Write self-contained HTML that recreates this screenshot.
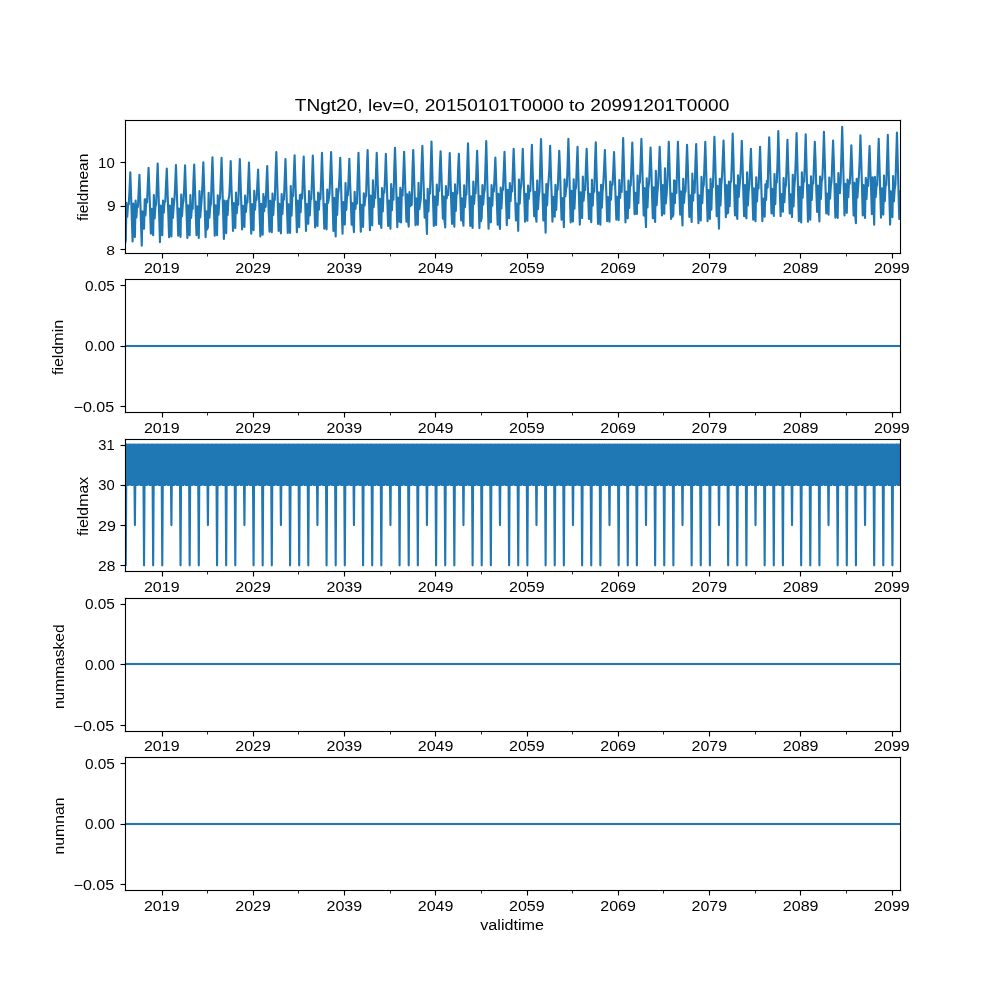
<!DOCTYPE html>
<html><head><meta charset="utf-8"><title>TNgt20</title>
<style>html,body{margin:0;padding:0;background:#fff;}svg{display:block;}</style></head>
<body><svg width="1000" height="1000" viewBox="0 0 1000 1000">
<defs><clipPath id="c0"><rect x="125" y="120.000" width="775" height="132.759"/></clipPath><clipPath id="c1"><rect x="125" y="279.310" width="775" height="132.759"/></clipPath><clipPath id="c2"><rect x="125" y="438.621" width="775" height="132.759"/></clipPath><clipPath id="c3"><rect x="125" y="597.931" width="775" height="132.759"/></clipPath><clipPath id="c4"><rect x="125" y="757.241" width="775" height="132.759"/></clipPath></defs>
<rect width="1000" height="1000" fill="#fff"/>
<rect x="126" y="444" width="774" height="41" fill="#1f77b4"/>
<rect x="126" y="344" width="774" height="1" fill="#f5f9fb"/><rect x="126" y="347" width="774" height="1" fill="#f5f9fb"/><rect x="125" y="345" width="775" height="2" fill="#1f77b4"/><rect x="126" y="662" width="774" height="1" fill="#f5f9fb"/><rect x="126" y="665" width="774" height="1" fill="#f5f9fb"/><rect x="125" y="663" width="775" height="2" fill="#1f77b4"/><rect x="126" y="822" width="774" height="1" fill="#f5f9fb"/><rect x="126" y="825" width="774" height="1" fill="#f5f9fb"/><rect x="125" y="823" width="775" height="2" fill="#1f77b4"/>
<g fill="none" stroke="#1f77b4" stroke-width="2.12" stroke-linejoin="round" stroke-linecap="square">
<path clip-path="url(#c0)" d="M125.00 243.70L125.77 240.50L126.47 202.86L127.25 216.64L128.00 205.06L128.77 204.34L129.52 190.00L130.30 172.40L132.60 241.40L133.35 203.68L134.12 229.94L134.90 237.02L135.62 200.66L136.39 217.47L137.14 204.36L137.92 207.03L139.44 174.80L141.74 245.60L142.49 211.26L143.27 221.90L144.04 228.76L144.74 199.27L145.52 215.42L146.26 198.98L147.04 202.52L148.56 167.80L150.09 209.83L150.86 233.70L151.61 208.80L152.39 227.29L153.16 235.23L153.86 195.12L154.64 218.47L155.39 207.00L156.16 203.72L157.68 163.60L159.98 242.10L160.73 205.65L161.51 225.25L162.28 235.16L162.98 200.61L163.76 212.72L164.51 202.11L165.28 201.54L166.03 183.88L166.80 168.50L169.10 237.20L169.85 205.47L170.63 228.37L171.40 236.48L172.13 198.62L172.90 217.88L173.65 206.96L174.43 199.48L175.18 185.31L175.95 165.00L178.25 235.80L179.00 208.61L180.55 236.85L181.25 194.64L182.02 216.17L182.77 204.55L183.55 200.53L184.30 185.24L185.07 165.30L187.37 237.90L188.12 205.36L188.89 226.89L189.67 235.29L190.37 195.03L191.14 218.00L191.89 207.18L192.67 208.94L193.42 181.48L194.19 164.60L196.49 235.10L197.24 206.38L198.01 219.64L198.79 237.96L199.49 190.95L200.26 217.47L201.79 197.24L202.54 181.94L203.31 162.20L204.09 185.01L204.84 212.81L205.61 237.20L206.36 211.36L207.14 229.54L207.91 227.21L208.63 192.77L209.41 217.62L210.16 207.49L210.93 203.60L211.68 178.67L212.46 157.40L214.76 235.80L215.51 205.23L217.06 235.31L217.76 195.30L218.53 214.62L219.28 201.03L220.05 197.43L221.58 157.70L223.88 239.00L224.63 200.66L225.40 226.73L226.18 233.23L226.88 200.99L227.65 214.83L228.40 199.80L229.17 196.45L229.92 183.24L230.70 161.10L231.47 188.02L232.22 206.62L233.00 230.90L233.75 202.96L234.52 223.96L235.30 228.01L236.00 192.44L236.77 213.10L237.52 201.64L238.30 204.73L239.04 180.07L239.82 159.10L242.12 229.50L242.87 205.91L243.64 214.28L244.42 226.96L245.14 195.67L245.92 211.95L246.67 202.59L247.44 202.46L248.97 162.50L251.26 233.70L252.01 204.03L252.79 218.96L253.56 230.12L254.26 190.81L255.04 209.76L255.79 198.30L256.56 199.88L258.09 169.50L260.38 236.50L261.13 203.80L261.91 221.89L262.68 234.81L263.38 194.09L264.16 211.12L264.91 197.29L265.68 206.82L266.43 184.08L267.21 166.00L268.73 213.25L269.51 231.60L270.25 200.84L271.03 222.19L271.80 232.27L272.50 193.61L273.28 214.96L274.03 200.14L274.80 200.05L275.55 173.38L276.33 152.00L278.63 230.90L279.38 203.77L280.92 233.33L281.65 194.12L282.42 213.84L283.17 200.17L283.95 199.39L285.47 159.10L287.77 233.00L288.52 204.34L289.30 220.36L290.07 232.85L290.77 186.13L291.54 215.59L292.29 195.99L293.07 196.09L294.59 155.20L295.37 179.76L296.89 232.30L297.64 200.59L298.42 216.25L299.19 227.21L299.89 195.09L300.67 212.31L301.41 194.17L302.19 198.35L302.94 175.00L303.71 156.60L304.49 183.95L305.24 203.97L306.01 230.90L306.76 203.98L307.54 221.73L308.31 223.84L309.01 191.09L309.79 215.41L310.54 199.63L311.31 198.89L312.83 155.60L315.13 227.40L315.88 201.48L316.66 221.80L317.43 225.91L318.16 192.47L318.93 209.74L319.68 193.69L320.46 198.91L321.21 177.85L321.98 152.70L324.28 228.80L325.03 204.09L326.58 229.32L327.28 189.56L328.05 202.91L329.58 193.53L331.10 152.10L331.87 175.74L333.40 230.90L334.15 197.85L334.92 222.00L335.70 236.49L336.40 188.76L337.17 214.92L337.92 195.94L338.70 189.97L339.45 177.54L340.22 157.70L342.52 233.70L343.27 202.01L344.04 220.84L344.82 224.44L345.52 183.10L346.29 209.88L347.04 195.78L347.82 195.27L348.57 179.22L349.34 158.70L350.12 183.23L350.87 202.18L351.64 224.60L352.39 203.13L353.16 221.94L353.94 232.13L354.66 191.92L355.44 208.98L356.19 198.90L356.96 203.59L357.71 175.76L358.49 152.70L359.26 177.73L360.01 206.55L360.79 231.60L361.54 204.87L362.31 219.60L363.08 226.90L363.78 193.38L364.56 205.53L365.31 197.71L366.08 195.81L366.83 170.99L367.61 150.00L369.13 204.30L369.91 230.20L370.66 195.66L371.43 220.21L372.21 225.33L372.91 180.36L373.68 207.30L374.43 196.50L375.20 197.87L376.73 152.80L379.03 223.90L379.78 198.84L380.55 222.09L381.33 227.95L382.03 188.08L382.80 211.55L383.55 191.30L384.32 192.58L385.07 177.01L385.85 153.80L388.15 226.00L388.90 200.56L389.67 215.72L390.45 228.61L391.17 184.18L391.95 210.29L392.70 189.03L393.47 199.80L394.22 170.44L394.99 147.70L395.77 171.30L397.29 227.10L398.04 197.61L398.82 217.82L399.59 221.59L400.29 187.77L401.07 222.46L401.82 189.80L402.59 195.81L404.11 151.70L406.41 221.80L407.16 194.40L407.94 218.72L408.71 226.60L409.41 192.05L410.19 206.10L410.94 194.88L411.71 205.09L412.46 170.85L413.24 150.00L414.01 173.35L415.53 225.30L416.28 198.21L417.06 219.92L417.83 224.76L418.53 182.78L419.31 209.24L420.83 198.67L421.58 165.24L422.36 145.80L424.66 217.60L425.40 200.40L426.18 215.87L426.95 233.89L427.68 188.77L428.45 211.52L429.20 194.31L429.98 193.46L431.50 141.60L433.03 199.04L433.80 226.00L434.55 196.46L435.32 221.07L436.10 225.03L436.80 184.66L437.57 204.95L438.32 191.17L439.10 190.91L439.85 167.69L440.62 151.40L442.15 197.44L442.92 218.70L443.67 196.67L444.45 219.97L445.22 227.37L445.92 186.03L446.69 198.33L447.44 192.12L448.22 195.01L449.74 153.10L451.27 202.92L452.04 223.90L452.79 192.81L453.57 207.49L454.34 226.68L455.04 184.41L455.81 211.03L456.56 192.23L457.34 193.53L458.09 170.73L458.86 153.80L461.16 220.40L461.91 198.22L462.69 217.29L463.46 225.61L464.19 185.19L464.96 207.08L465.71 195.28L466.48 194.31L467.23 166.93L468.01 143.30L468.78 169.60L469.53 201.64L470.31 226.00L471.06 196.23L471.83 219.08L472.61 228.02L473.31 181.54L474.08 204.04L474.83 192.57L475.61 193.09L477.13 150.70L477.90 174.10L479.43 228.10L480.18 195.98L480.95 221.17L481.73 217.61L482.43 185.05L483.20 204.57L483.95 193.47L484.73 189.96L486.25 141.00L487.77 200.42L488.55 228.80L489.30 197.71L490.07 216.26L490.85 222.32L491.55 185.15L492.32 205.58L493.07 188.46L493.85 191.40L495.37 157.60L497.67 224.60L498.42 193.77L499.19 220.17L499.97 229.01L500.69 187.64L501.47 208.44L502.22 190.85L502.99 189.67L504.52 151.70L506.82 225.30L507.56 189.85L508.34 214.23L509.11 218.20L509.81 183.13L510.59 201.27L511.34 186.17L512.11 191.45L513.64 148.90L514.41 169.67L515.16 198.08L515.94 220.40L516.69 203.52L517.46 208.47L518.23 230.86L518.93 179.58L519.71 203.74L520.46 190.05L521.23 185.19L521.98 172.03L522.76 148.90L525.06 221.80L525.81 193.93L527.36 220.73L528.05 185.53L528.83 198.81L529.58 188.79L530.35 191.03L531.88 144.70L532.65 170.60L534.18 216.20L534.93 191.89L535.70 215.41L536.48 221.77L537.20 180.47L537.98 209.30L538.72 196.70L539.50 191.23L541.02 139.10L543.32 220.40L544.07 194.40L544.85 209.38L545.62 232.63L546.32 184.17L547.10 205.45L547.85 189.20L548.62 180.27L549.37 169.09L550.14 145.80L550.92 173.67L551.67 195.47L552.44 221.80L553.19 196.85L553.97 216.01L554.74 216.70L555.44 184.74L556.22 209.89L556.97 190.57L557.74 189.45L559.26 150.70L560.04 170.83L560.79 197.09L561.56 219.70L562.31 198.03L563.09 208.22L563.86 227.18L564.56 179.27L565.34 196.42L566.09 189.04L566.86 185.70L567.61 164.62L568.39 138.70L569.16 164.35L569.91 196.65L570.68 222.50L571.43 190.88L572.21 214.16L572.98 221.54L573.71 179.38L574.48 208.80L575.23 190.03L576.01 187.68L576.76 165.85L577.53 146.80L579.06 200.18L579.83 224.60L580.58 192.23L581.35 213.50L582.13 218.02L582.83 176.46L583.60 200.79L584.35 190.32L585.13 190.10L585.88 167.65L586.65 148.90L588.95 219.00L589.70 193.92L590.47 216.35L591.25 222.21L591.95 179.70L592.72 205.58L593.47 188.59L594.25 191.79L595.00 163.36L595.77 142.30L596.55 171.68L598.07 223.90L598.82 192.38L599.60 206.79L600.37 224.65L601.07 184.82L601.84 207.67L602.59 191.71L603.37 182.47L604.12 167.90L604.89 150.00L606.42 196.03L607.19 221.10L607.94 197.13L608.72 212.61L609.49 221.67L610.22 181.55L610.99 199.62L611.74 184.75L612.51 184.85L613.26 171.04L614.04 152.10L616.34 219.70L617.09 196.73L617.86 206.43L618.64 220.28L619.34 180.01L620.11 197.86L620.86 185.98L621.63 191.96L623.16 138.00L625.46 222.50L626.21 191.52L626.98 215.64L627.76 218.34L628.46 180.53L629.23 207.99L629.98 186.39L630.76 185.45L632.28 142.60L634.58 214.10L635.33 192.72L636.10 213.40L636.88 213.86L637.58 175.67L638.35 203.28L639.10 184.01L639.88 182.41L641.40 138.70L642.17 162.46L643.70 215.50L644.45 187.94L645.22 211.95L646.00 227.30L646.72 178.22L647.50 207.37L648.25 188.50L649.02 183.05L649.77 167.00L650.55 147.50L651.32 169.18L652.07 196.26L652.84 218.30L653.59 187.23L654.37 215.94L655.14 221.99L655.84 170.76L656.62 205.26L657.37 193.19L658.14 184.12L658.89 168.68L659.67 146.80L660.44 166.38L661.19 193.26L661.97 215.50L662.71 185.05L663.49 212.48L664.26 213.73L664.96 168.20L665.74 203.55L666.49 195.82L667.26 184.67L668.01 165.86L668.79 141.90L671.09 219.00L671.84 193.65L672.61 216.75L673.38 214.46L674.08 180.36L674.86 203.15L675.61 181.27L676.38 193.02L677.91 141.90L678.68 164.32L679.43 193.73L680.21 214.80L680.96 191.29L682.51 225.53L683.23 178.87L684.00 202.86L684.75 192.44L685.53 191.56L687.05 144.70L687.83 166.12L689.35 216.90L690.10 195.22L690.88 206.41L691.65 222.03L692.35 173.66L693.13 200.70L693.87 181.45L694.65 192.68L695.40 163.45L696.17 144.00L698.47 223.20L699.22 195.34L700.00 204.30L700.77 220.55L701.47 176.82L702.25 203.25L703.00 188.02L703.77 184.41L705.29 141.90L706.07 167.39L707.59 221.10L708.34 190.09L709.12 207.05L709.89 218.95L710.59 178.85L711.37 209.74L712.12 184.12L712.89 187.20L714.41 136.70L715.19 159.37L716.71 216.20L717.46 185.72L718.24 208.93L719.01 228.64L719.74 178.79L720.51 205.47L721.26 184.98L722.04 176.35L723.56 140.50L725.86 217.30L726.61 185.12L727.38 213.47L728.16 212.63L728.86 181.48L729.63 206.21L730.38 182.72L731.16 181.40L731.91 161.02L732.68 133.50L733.46 158.69L734.21 189.91L734.98 215.50L735.73 185.34L736.50 212.07L737.28 218.97L737.98 175.29L738.75 196.99L739.50 186.40L740.28 178.22L741.03 162.72L741.80 140.90L742.58 165.07L743.33 192.51L744.10 216.20L744.85 184.94L745.62 215.34L746.40 218.31L747.10 172.43L747.87 205.56L748.62 191.70L749.40 184.60L750.15 165.59L750.92 148.90L753.22 219.70L753.97 188.39L754.75 214.54L755.52 221.28L756.24 177.20L757.02 201.38L757.77 184.94L758.54 188.38L760.07 146.80L762.37 221.10L763.12 198.66L763.89 209.99L764.67 216.61L765.37 184.34L766.14 199.91L766.89 180.80L767.66 187.58L768.41 159.62L769.19 137.30L769.96 161.57L771.49 213.40L772.24 188.77L773.01 205.26L773.79 215.91L774.49 174.09L775.26 204.15L776.01 182.09L776.78 182.66L777.53 161.43L778.31 131.10L779.08 158.24L779.83 190.64L780.61 216.20L781.36 194.11L782.13 207.40L782.91 211.61L783.61 177.95L784.38 202.08L785.13 188.38L785.91 184.97L786.65 164.29L787.43 139.80L788.20 166.44L788.95 187.33L789.73 213.40L790.48 194.38L791.25 208.46L792.03 217.03L792.75 174.88L793.53 206.48L794.28 188.29L795.05 177.74L795.80 158.96L796.58 133.10L798.87 221.10L799.62 186.82L800.40 202.07L801.17 222.51L801.87 172.40L802.65 197.76L803.40 182.12L804.17 181.64L804.92 160.56L805.70 134.20L807.99 221.80L808.74 185.04L809.52 205.63L810.29 219.81L810.99 176.33L811.77 199.88L812.52 183.02L813.29 183.29L814.82 141.90L815.59 161.93L816.34 191.58L817.12 212.00L817.86 185.49L818.64 205.07L819.41 221.48L820.11 176.58L820.89 198.98L821.64 181.93L822.41 178.23L823.16 158.28L823.94 131.80L825.46 184.96L826.24 213.40L826.99 193.48L827.76 202.78L828.53 214.76L829.26 177.53L830.03 198.66L830.78 186.60L831.56 181.20L833.08 140.50L833.86 162.82L835.38 217.60L836.13 184.13L837.68 217.91L838.38 173.02L839.15 191.02L839.90 193.21L840.68 180.74L842.20 126.80L844.50 215.50L845.25 183.72L846.03 201.13L846.80 212.85L847.50 179.65L848.28 197.16L849.02 180.72L849.80 183.64L850.55 166.58L851.32 145.40L852.10 166.22L853.62 215.50L854.37 182.73L855.15 214.59L855.92 223.25L856.62 178.88L857.40 197.67L858.92 175.78L859.67 159.93L860.44 135.30L861.22 159.55L862.74 215.50L863.49 185.15L864.27 204.99L865.04 218.02L865.77 177.85L866.54 198.99L867.29 180.00L868.07 186.04L868.82 164.61L869.59 146.10L870.36 170.49L871.11 190.14L871.89 214.10L872.64 177.36L873.41 204.34L874.19 224.77L874.89 176.90L875.66 197.13L876.41 186.69L877.19 185.28L878.71 138.80L880.23 191.72L881.01 217.60L881.76 188.28L882.53 203.55L883.31 214.59L884.01 175.59L884.78 201.29L885.53 185.70L886.31 185.13L887.83 134.90L888.61 168.75L890.13 224.60L890.88 191.27L891.65 212.97L892.43 217.10L893.13 175.98L893.90 201.40L894.65 189.43L895.43 184.36L896.95 132.50L899.25 219.00L900.00 191.42L900.00 191.42"/>
<path clip-path="url(#c2)" d="M125.00 444.65L125.77 565.34L126.47 444.65L127.25 484.88L128.00 444.65L128.77 484.88L129.52 444.65L130.30 444.65L131.07 484.88L131.82 444.65L132.60 484.88L133.35 444.65L134.12 444.65L134.90 525.11L135.62 444.65L136.39 484.88L137.14 444.65L137.92 484.88L138.67 444.65L139.44 444.65L140.22 484.88L140.97 444.65L141.74 484.88L142.49 444.65L143.27 444.65L144.04 565.34L144.74 444.65L145.52 484.88L146.26 444.65L147.04 484.88L147.79 444.65L148.56 444.65L149.34 484.88L150.09 444.65L150.86 484.88L151.61 444.65L152.39 444.65L153.16 565.34L153.86 444.65L154.64 484.88L155.39 444.65L156.16 484.88L156.91 444.65L157.68 444.65L158.46 484.88L159.21 444.65L159.98 484.88L160.73 444.65L161.51 444.65L162.28 565.34L162.98 444.65L163.76 484.88L164.51 444.65L165.28 484.88L166.03 444.65L166.80 444.65L167.58 484.88L168.33 444.65L169.10 484.88L169.85 444.65L170.63 444.65L171.40 525.11L172.13 444.65L172.90 484.88L173.65 444.65L174.43 484.88L175.18 444.65L175.95 444.65L176.72 484.88L177.47 444.65L178.25 484.88L179.00 444.65L179.77 444.65L180.55 565.34L181.25 444.65L182.02 484.88L182.77 444.65L183.55 484.88L184.30 444.65L185.07 444.65L185.85 484.88L186.60 444.65L187.37 484.88L188.12 444.65L188.89 444.65L189.67 565.34L190.37 444.65L191.14 484.88L191.89 444.65L192.67 484.88L193.42 444.65L194.19 444.65L194.97 484.88L195.72 444.65L196.49 484.88L197.24 444.65L198.01 444.65L198.79 565.34L199.49 444.65L200.26 484.88L201.01 444.65L201.79 484.88L202.54 444.65L203.31 444.65L204.09 484.88L204.84 444.65L205.61 484.88L206.36 444.65L207.14 444.65L207.91 525.11L208.63 444.65L209.41 484.88L210.16 444.65L210.93 484.88L211.68 444.65L212.46 444.65L213.23 484.88L213.98 444.65L214.76 484.88L215.51 444.65L216.28 444.65L217.06 565.34L217.76 444.65L218.53 484.88L219.28 444.65L220.05 484.88L220.80 444.65L221.58 444.65L222.35 484.88L223.10 444.65L223.88 484.88L224.63 444.65L225.40 444.65L226.18 565.34L226.88 444.65L227.65 484.88L228.40 444.65L229.17 484.88L229.92 444.65L230.70 444.65L231.47 484.88L232.22 444.65L233.00 484.88L233.75 444.65L234.52 444.65L235.30 565.34L236.00 444.65L236.77 484.88L237.52 444.65L238.30 484.88L239.04 444.65L239.82 444.65L240.59 484.88L241.34 444.65L242.12 484.88L242.87 444.65L243.64 444.65L244.42 525.11L245.14 444.65L245.92 484.88L246.67 444.65L247.44 484.88L248.19 444.65L248.97 444.65L249.74 484.88L250.49 444.65L251.26 484.88L252.01 444.65L252.79 444.65L253.56 565.34L254.26 444.65L255.04 484.88L255.79 444.65L256.56 484.88L257.31 444.65L258.09 444.65L258.86 484.88L259.61 444.65L260.38 484.88L261.13 444.65L261.91 444.65L262.68 565.34L263.38 444.65L264.16 484.88L264.91 444.65L265.68 484.88L266.43 444.65L267.21 444.65L267.98 484.88L268.73 444.65L269.51 484.88L270.25 444.65L271.03 444.65L271.80 565.34L272.50 444.65L273.28 484.88L274.03 444.65L274.80 484.88L275.55 444.65L276.33 444.65L277.10 484.88L277.85 444.65L278.63 484.88L279.38 444.65L280.15 444.65L280.92 525.11L281.65 444.65L282.42 484.88L283.17 444.65L283.95 484.88L284.70 444.65L285.47 444.65L286.25 484.88L287.00 444.65L287.77 484.88L288.52 444.65L289.30 444.65L290.07 565.34L290.77 444.65L291.54 484.88L292.29 444.65L293.07 484.88L293.82 444.65L294.59 444.65L295.37 484.88L296.12 444.65L296.89 484.88L297.64 444.65L298.42 444.65L299.19 565.34L299.89 444.65L300.67 484.88L301.41 444.65L302.19 484.88L302.94 444.65L303.71 444.65L304.49 484.88L305.24 444.65L306.01 484.88L306.76 444.65L307.54 444.65L308.31 565.34L309.01 444.65L309.79 484.88L310.54 444.65L311.31 484.88L312.06 444.65L312.83 444.65L313.61 484.88L314.36 444.65L315.13 484.88L315.88 444.65L316.66 444.65L317.43 525.11L318.16 444.65L318.93 484.88L319.68 444.65L320.46 484.88L321.21 444.65L321.98 444.65L322.75 484.88L323.50 444.65L324.28 484.88L325.03 444.65L325.80 444.65L326.58 565.34L327.28 444.65L328.05 484.88L328.80 444.65L329.58 484.88L330.33 444.65L331.10 444.65L331.87 484.88L332.62 444.65L333.40 484.88L334.15 444.65L334.92 444.65L335.70 565.34L336.40 444.65L337.17 484.88L337.92 444.65L338.70 484.88L339.45 444.65L340.22 444.65L341.00 484.88L341.75 444.65L342.52 484.88L343.27 444.65L344.04 444.65L344.82 565.34L345.52 444.65L346.29 484.88L347.04 444.65L347.82 484.88L348.57 444.65L349.34 444.65L350.12 484.88L350.87 444.65L351.64 484.88L352.39 444.65L353.16 444.65L353.94 525.11L354.66 444.65L355.44 484.88L356.19 444.65L356.96 484.88L357.71 444.65L358.49 444.65L359.26 484.88L360.01 444.65L360.79 484.88L361.54 444.65L362.31 444.65L363.08 565.34L363.78 444.65L364.56 484.88L365.31 444.65L366.08 484.88L366.83 444.65L367.61 444.65L368.38 484.88L369.13 444.65L369.91 484.88L370.66 444.65L371.43 444.65L372.21 565.34L372.91 444.65L373.68 484.88L374.43 444.65L375.20 484.88L375.95 444.65L376.73 444.65L377.50 484.88L378.25 444.65L379.03 484.88L379.78 444.65L380.55 444.65L381.33 565.34L382.03 444.65L382.80 484.88L383.55 444.65L384.32 484.88L385.07 444.65L385.85 444.65L386.62 484.88L387.37 444.65L388.15 484.88L388.90 444.65L389.67 444.65L390.45 525.11L391.17 444.65L391.95 484.88L392.70 444.65L393.47 484.88L394.22 444.65L394.99 444.65L395.77 484.88L396.52 444.65L397.29 484.88L398.04 444.65L398.82 444.65L399.59 565.34L400.29 444.65L401.07 484.88L401.82 444.65L402.59 484.88L403.34 444.65L404.11 444.65L404.89 484.88L405.64 444.65L406.41 484.88L407.16 444.65L407.94 444.65L408.71 565.34L409.41 444.65L410.19 484.88L410.94 444.65L411.71 484.88L412.46 444.65L413.24 444.65L414.01 484.88L414.76 444.65L415.53 484.88L416.28 444.65L417.06 444.65L417.83 565.34L418.53 444.65L419.31 484.88L420.06 444.65L420.83 484.88L421.58 444.65L422.36 444.65L423.13 484.88L423.88 444.65L424.66 484.88L425.40 444.65L426.18 444.65L426.95 525.11L427.68 444.65L428.45 484.88L429.20 444.65L429.98 484.88L430.73 444.65L431.50 444.65L432.28 484.88L433.03 444.65L433.80 484.88L434.55 444.65L435.32 444.65L436.10 565.34L436.80 444.65L437.57 484.88L438.32 444.65L439.10 484.88L439.85 444.65L440.62 444.65L441.40 484.88L442.15 444.65L442.92 484.88L443.67 444.65L444.45 444.65L445.22 565.34L445.92 444.65L446.69 484.88L447.44 444.65L448.22 484.88L448.97 444.65L449.74 444.65L450.52 484.88L451.27 444.65L452.04 484.88L452.79 444.65L453.57 444.65L454.34 565.34L455.04 444.65L455.81 484.88L456.56 444.65L457.34 484.88L458.09 444.65L458.86 444.65L459.64 484.88L460.39 444.65L461.16 484.88L461.91 444.65L462.69 444.65L463.46 525.11L464.19 444.65L464.96 484.88L465.71 444.65L466.48 484.88L467.23 444.65L468.01 444.65L468.78 484.88L469.53 444.65L470.31 484.88L471.06 444.65L471.83 444.65L472.61 565.34L473.31 444.65L474.08 484.88L474.83 444.65L475.61 484.88L476.35 444.65L477.13 444.65L477.90 484.88L478.65 444.65L479.43 484.88L480.18 444.65L480.95 444.65L481.73 565.34L482.43 444.65L483.20 484.88L483.95 444.65L484.73 484.88L485.48 444.65L486.25 444.65L487.02 484.88L487.77 444.65L488.55 484.88L489.30 444.65L490.07 444.65L490.85 565.34L491.55 444.65L492.32 484.88L493.07 444.65L493.85 484.88L494.60 444.65L495.37 444.65L496.15 484.88L496.90 444.65L497.67 484.88L498.42 444.65L499.19 444.65L499.97 525.11L500.69 444.65L501.47 484.88L502.22 444.65L502.99 484.88L503.74 444.65L504.52 444.65L505.29 484.88L506.04 444.65L506.82 484.88L507.56 444.65L508.34 444.65L509.11 565.34L509.81 444.65L510.59 484.88L511.34 444.65L512.11 484.88L512.86 444.65L513.64 444.65L514.41 484.88L515.16 444.65L515.94 484.88L516.69 444.65L517.46 444.65L518.23 565.34L518.93 444.65L519.71 484.88L520.46 444.65L521.23 484.88L521.98 444.65L522.76 444.65L523.53 484.88L524.28 444.65L525.06 484.88L525.81 444.65L526.58 444.65L527.36 565.34L528.05 444.65L528.83 484.88L529.58 444.65L530.35 484.88L531.10 444.65L531.88 444.65L532.65 484.88L533.40 444.65L534.18 484.88L534.93 444.65L535.70 444.65L536.48 525.11L537.20 444.65L537.98 484.88L538.72 444.65L539.50 484.88L540.25 444.65L541.02 444.65L541.80 484.88L542.55 444.65L543.32 484.88L544.07 444.65L544.85 444.65L545.62 565.34L546.32 444.65L547.10 484.88L547.85 444.65L548.62 484.88L549.37 444.65L550.14 444.65L550.92 484.88L551.67 444.65L552.44 484.88L553.19 444.65L553.97 444.65L554.74 565.34L555.44 444.65L556.22 484.88L556.97 444.65L557.74 484.88L558.49 444.65L559.26 444.65L560.04 484.88L560.79 444.65L561.56 484.88L562.31 444.65L563.09 444.65L563.86 565.34L564.56 444.65L565.34 484.88L566.09 444.65L566.86 484.88L567.61 444.65L568.39 444.65L569.16 484.88L569.91 444.65L570.68 484.88L571.43 444.65L572.21 444.65L572.98 525.11L573.71 444.65L574.48 484.88L575.23 444.65L576.01 484.88L576.76 444.65L577.53 444.65L578.31 484.88L579.06 444.65L579.83 484.88L580.58 444.65L581.35 444.65L582.13 565.34L582.83 444.65L583.60 484.88L584.35 444.65L585.13 484.88L585.88 444.65L586.65 444.65L587.43 484.88L588.18 444.65L588.95 484.88L589.70 444.65L590.47 444.65L591.25 565.34L591.95 444.65L592.72 484.88L593.47 444.65L594.25 484.88L595.00 444.65L595.77 444.65L596.55 484.88L597.30 444.65L598.07 484.88L598.82 444.65L599.60 444.65L600.37 565.34L601.07 444.65L601.84 484.88L602.59 444.65L603.37 484.88L604.12 444.65L604.89 444.65L605.67 484.88L606.42 444.65L607.19 484.88L607.94 444.65L608.72 444.65L609.49 525.11L610.22 444.65L610.99 484.88L611.74 444.65L612.51 484.88L613.26 444.65L614.04 444.65L614.81 484.88L615.56 444.65L616.34 484.88L617.09 444.65L617.86 444.65L618.64 565.34L619.34 444.65L620.11 484.88L620.86 444.65L621.63 484.88L622.38 444.65L623.16 444.65L623.93 484.88L624.68 444.65L625.46 484.88L626.21 444.65L626.98 444.65L627.76 565.34L628.46 444.65L629.23 484.88L629.98 444.65L630.76 484.88L631.50 444.65L632.28 444.65L633.05 484.88L633.80 444.65L634.58 484.88L635.33 444.65L636.10 444.65L636.88 565.34L637.58 444.65L638.35 484.88L639.10 444.65L639.88 484.88L640.63 444.65L641.40 444.65L642.17 484.88L642.92 444.65L643.70 484.88L644.45 444.65L645.22 444.65L646.00 525.11L646.72 444.65L647.50 484.88L648.25 444.65L649.02 484.88L649.77 444.65L650.55 444.65L651.32 484.88L652.07 444.65L652.84 484.88L653.59 444.65L654.37 444.65L655.14 565.34L655.84 444.65L656.62 484.88L657.37 444.65L658.14 484.88L658.89 444.65L659.67 444.65L660.44 484.88L661.19 444.65L661.97 484.88L662.71 444.65L663.49 444.65L664.26 565.34L664.96 444.65L665.74 484.88L666.49 444.65L667.26 484.88L668.01 444.65L668.79 444.65L669.56 484.88L670.31 444.65L671.09 484.88L671.84 444.65L672.61 444.65L673.38 565.34L674.08 444.65L674.86 484.88L675.61 444.65L676.38 484.88L677.13 444.65L677.91 444.65L678.68 484.88L679.43 444.65L680.21 484.88L680.96 444.65L681.73 444.65L682.51 525.11L683.23 444.65L684.00 484.88L684.75 444.65L685.53 484.88L686.28 444.65L687.05 444.65L687.83 484.88L688.58 444.65L689.35 484.88L690.10 444.65L690.88 444.65L691.65 565.34L692.35 444.65L693.13 484.88L693.87 444.65L694.65 484.88L695.40 444.65L696.17 444.65L696.95 484.88L697.70 444.65L698.47 484.88L699.22 444.65L700.00 444.65L700.77 565.34L701.47 444.65L702.25 484.88L703.00 444.65L703.77 484.88L704.52 444.65L705.29 444.65L706.07 484.88L706.82 444.65L707.59 484.88L708.34 444.65L709.12 444.65L709.89 565.34L710.59 444.65L711.37 484.88L712.12 444.65L712.89 484.88L713.64 444.65L714.41 444.65L715.19 484.88L715.94 444.65L716.71 484.88L717.46 444.65L718.24 444.65L719.01 525.11L719.74 444.65L720.51 484.88L721.26 444.65L722.04 484.88L722.79 444.65L723.56 444.65L724.33 484.88L725.08 444.65L725.86 484.88L726.61 444.65L727.38 444.65L728.16 565.34L728.86 444.65L729.63 484.88L730.38 444.65L731.16 484.88L731.91 444.65L732.68 444.65L733.46 484.88L734.21 444.65L734.98 484.88L735.73 444.65L736.50 444.65L737.28 565.34L737.98 444.65L738.75 484.88L739.50 444.65L740.28 484.88L741.03 444.65L741.80 444.65L742.58 484.88L743.33 444.65L744.10 484.88L744.85 444.65L745.62 444.65L746.40 565.34L747.10 444.65L747.87 484.88L748.62 444.65L749.40 484.88L750.15 444.65L750.92 444.65L751.70 484.88L752.45 444.65L753.22 484.88L753.97 444.65L754.75 444.65L755.52 525.11L756.24 444.65L757.02 484.88L757.77 444.65L758.54 484.88L759.29 444.65L760.07 444.65L760.84 484.88L761.59 444.65L762.37 484.88L763.12 444.65L763.89 444.65L764.67 565.34L765.37 444.65L766.14 484.88L766.89 444.65L767.66 484.88L768.41 444.65L769.19 444.65L769.96 484.88L770.71 444.65L771.49 484.88L772.24 444.65L773.01 444.65L773.79 565.34L774.49 444.65L775.26 484.88L776.01 444.65L776.78 484.88L777.53 444.65L778.31 444.65L779.08 484.88L779.83 444.65L780.61 484.88L781.36 444.65L782.13 444.65L782.91 565.34L783.61 444.65L784.38 484.88L785.13 444.65L785.91 484.88L786.65 444.65L787.43 444.65L788.20 484.88L788.95 444.65L789.73 484.88L790.48 444.65L791.25 444.65L792.03 525.11L792.75 444.65L793.53 484.88L794.28 444.65L795.05 484.88L795.80 444.65L796.58 444.65L797.35 484.88L798.10 444.65L798.87 484.88L799.62 444.65L800.40 444.65L801.17 565.34L801.87 444.65L802.65 484.88L803.40 444.65L804.17 484.88L804.92 444.65L805.70 444.65L806.47 484.88L807.22 444.65L807.99 484.88L808.74 444.65L809.52 444.65L810.29 565.34L810.99 444.65L811.77 484.88L812.52 444.65L813.29 484.88L814.04 444.65L814.82 444.65L815.59 484.88L816.34 444.65L817.12 484.88L817.86 444.65L818.64 444.65L819.41 565.34L820.11 444.65L820.89 484.88L821.64 444.65L822.41 484.88L823.16 444.65L823.94 444.65L824.71 484.88L825.46 444.65L826.24 484.88L826.99 444.65L827.76 444.65L828.53 525.11L829.26 444.65L830.03 484.88L830.78 444.65L831.56 484.88L832.31 444.65L833.08 444.65L833.86 484.88L834.61 444.65L835.38 484.88L836.13 444.65L836.91 444.65L837.68 565.34L838.38 444.65L839.15 484.88L839.90 444.65L840.68 484.88L841.43 444.65L842.20 444.65L842.98 484.88L843.73 444.65L844.50 484.88L845.25 444.65L846.03 444.65L846.80 565.34L847.50 444.65L848.28 484.88L849.02 444.65L849.80 484.88L850.55 444.65L851.32 444.65L852.10 484.88L852.85 444.65L853.62 484.88L854.37 444.65L855.15 444.65L855.92 565.34L856.62 444.65L857.40 484.88L858.15 444.65L858.92 484.88L859.67 444.65L860.44 444.65L861.22 484.88L861.97 444.65L862.74 484.88L863.49 444.65L864.27 444.65L865.04 525.11L865.77 444.65L866.54 484.88L867.29 444.65L868.07 484.88L868.82 444.65L869.59 444.65L870.36 484.88L871.11 444.65L871.89 484.88L872.64 444.65L873.41 444.65L874.19 565.34L874.89 444.65L875.66 484.88L876.41 444.65L877.19 484.88L877.94 444.65L878.71 444.65L879.48 484.88L880.23 444.65L881.01 484.88L881.76 444.65L882.53 444.65L883.31 565.34L884.01 444.65L884.78 484.88L885.53 444.65L886.31 484.88L887.06 444.65L887.83 444.65L888.61 484.88L889.36 444.65L890.13 484.88L890.88 444.65L891.65 444.65L892.43 565.34L893.13 444.65L893.90 484.88L894.65 444.65L895.43 484.88L896.18 444.65L896.95 444.65L897.73 484.88L898.48 444.65L899.25 484.88L900.00 444.65L900.00 444.65"/>
</g>
<g shape-rendering="crispEdges" fill="#000"><rect x="124" y="119" width="778" height="3" fill-opacity="0.055"/><rect x="124" y="252" width="778" height="3" fill-opacity="0.055"/><rect x="124" y="119" width="3" height="136" fill-opacity="0.055"/><rect x="899" y="119" width="3" height="136" fill-opacity="0.055"/><rect x="121" y="161" width="3" height="1" fill-opacity="0.055"/><rect x="121" y="163" width="3" height="1" fill-opacity="0.055"/><rect x="124" y="161" width="1" height="1" fill-opacity="0.110"/><rect x="124" y="163" width="1" height="1" fill-opacity="0.110"/><rect x="120" y="161" width="1" height="1" fill-opacity="0.027"/><rect x="120" y="163" width="1" height="1" fill-opacity="0.027"/><rect x="121" y="205" width="3" height="1" fill-opacity="0.055"/><rect x="121" y="207" width="3" height="1" fill-opacity="0.055"/><rect x="124" y="205" width="1" height="1" fill-opacity="0.110"/><rect x="124" y="207" width="1" height="1" fill-opacity="0.110"/><rect x="120" y="205" width="1" height="1" fill-opacity="0.027"/><rect x="120" y="207" width="1" height="1" fill-opacity="0.027"/><rect x="121" y="248" width="3" height="1" fill-opacity="0.055"/><rect x="121" y="250" width="3" height="1" fill-opacity="0.055"/><rect x="124" y="248" width="1" height="1" fill-opacity="0.110"/><rect x="124" y="250" width="1" height="1" fill-opacity="0.110"/><rect x="120" y="248" width="1" height="1" fill-opacity="0.027"/><rect x="120" y="250" width="1" height="1" fill-opacity="0.027"/><rect x="161" y="254" width="1" height="1" fill-opacity="0.110"/><rect x="163" y="254" width="1" height="1" fill-opacity="0.110"/><rect x="161" y="255" width="1" height="3" fill-opacity="0.055"/><rect x="163" y="255" width="1" height="3" fill-opacity="0.055"/><rect x="161" y="258" width="1" height="1" fill-opacity="0.027"/><rect x="163" y="258" width="1" height="1" fill-opacity="0.027"/><rect x="252" y="254" width="1" height="1" fill-opacity="0.110"/><rect x="254" y="254" width="1" height="1" fill-opacity="0.110"/><rect x="252" y="255" width="1" height="3" fill-opacity="0.055"/><rect x="254" y="255" width="1" height="3" fill-opacity="0.055"/><rect x="252" y="258" width="1" height="1" fill-opacity="0.027"/><rect x="254" y="258" width="1" height="1" fill-opacity="0.027"/><rect x="343" y="254" width="1" height="1" fill-opacity="0.110"/><rect x="345" y="254" width="1" height="1" fill-opacity="0.110"/><rect x="343" y="255" width="1" height="3" fill-opacity="0.055"/><rect x="345" y="255" width="1" height="3" fill-opacity="0.055"/><rect x="343" y="258" width="1" height="1" fill-opacity="0.027"/><rect x="345" y="258" width="1" height="1" fill-opacity="0.027"/><rect x="434" y="254" width="1" height="1" fill-opacity="0.110"/><rect x="436" y="254" width="1" height="1" fill-opacity="0.110"/><rect x="434" y="255" width="1" height="3" fill-opacity="0.055"/><rect x="436" y="255" width="1" height="3" fill-opacity="0.055"/><rect x="434" y="258" width="1" height="1" fill-opacity="0.027"/><rect x="436" y="258" width="1" height="1" fill-opacity="0.027"/><rect x="526" y="254" width="1" height="1" fill-opacity="0.110"/><rect x="528" y="254" width="1" height="1" fill-opacity="0.110"/><rect x="526" y="255" width="1" height="3" fill-opacity="0.055"/><rect x="528" y="255" width="1" height="3" fill-opacity="0.055"/><rect x="526" y="258" width="1" height="1" fill-opacity="0.027"/><rect x="528" y="258" width="1" height="1" fill-opacity="0.027"/><rect x="617" y="254" width="1" height="1" fill-opacity="0.110"/><rect x="619" y="254" width="1" height="1" fill-opacity="0.110"/><rect x="617" y="255" width="1" height="3" fill-opacity="0.055"/><rect x="619" y="255" width="1" height="3" fill-opacity="0.055"/><rect x="617" y="258" width="1" height="1" fill-opacity="0.027"/><rect x="619" y="258" width="1" height="1" fill-opacity="0.027"/><rect x="708" y="254" width="1" height="1" fill-opacity="0.110"/><rect x="710" y="254" width="1" height="1" fill-opacity="0.110"/><rect x="708" y="255" width="1" height="3" fill-opacity="0.055"/><rect x="710" y="255" width="1" height="3" fill-opacity="0.055"/><rect x="708" y="258" width="1" height="1" fill-opacity="0.027"/><rect x="710" y="258" width="1" height="1" fill-opacity="0.027"/><rect x="799" y="254" width="1" height="1" fill-opacity="0.110"/><rect x="801" y="254" width="1" height="1" fill-opacity="0.110"/><rect x="799" y="255" width="1" height="3" fill-opacity="0.055"/><rect x="801" y="255" width="1" height="3" fill-opacity="0.055"/><rect x="799" y="258" width="1" height="1" fill-opacity="0.027"/><rect x="801" y="258" width="1" height="1" fill-opacity="0.027"/><rect x="891" y="254" width="1" height="1" fill-opacity="0.110"/><rect x="893" y="254" width="1" height="1" fill-opacity="0.110"/><rect x="891" y="255" width="1" height="3" fill-opacity="0.055"/><rect x="893" y="255" width="1" height="3" fill-opacity="0.055"/><rect x="891" y="258" width="1" height="1" fill-opacity="0.027"/><rect x="893" y="258" width="1" height="1" fill-opacity="0.027"/><rect x="124" y="278" width="778" height="3" fill-opacity="0.055"/><rect x="124" y="411" width="778" height="3" fill-opacity="0.055"/><rect x="124" y="278" width="3" height="136" fill-opacity="0.055"/><rect x="899" y="278" width="3" height="136" fill-opacity="0.055"/><rect x="121" y="284" width="3" height="1" fill-opacity="0.055"/><rect x="121" y="286" width="3" height="1" fill-opacity="0.055"/><rect x="124" y="284" width="1" height="1" fill-opacity="0.110"/><rect x="124" y="286" width="1" height="1" fill-opacity="0.110"/><rect x="120" y="284" width="1" height="1" fill-opacity="0.027"/><rect x="120" y="286" width="1" height="1" fill-opacity="0.027"/><rect x="121" y="345" width="3" height="1" fill-opacity="0.055"/><rect x="121" y="347" width="3" height="1" fill-opacity="0.055"/><rect x="124" y="345" width="1" height="1" fill-opacity="0.110"/><rect x="124" y="347" width="1" height="1" fill-opacity="0.110"/><rect x="120" y="345" width="1" height="1" fill-opacity="0.027"/><rect x="120" y="347" width="1" height="1" fill-opacity="0.027"/><rect x="121" y="405" width="3" height="1" fill-opacity="0.055"/><rect x="121" y="407" width="3" height="1" fill-opacity="0.055"/><rect x="124" y="405" width="1" height="1" fill-opacity="0.110"/><rect x="124" y="407" width="1" height="1" fill-opacity="0.110"/><rect x="120" y="405" width="1" height="1" fill-opacity="0.027"/><rect x="120" y="407" width="1" height="1" fill-opacity="0.027"/><rect x="161" y="413" width="1" height="1" fill-opacity="0.110"/><rect x="163" y="413" width="1" height="1" fill-opacity="0.110"/><rect x="161" y="414" width="1" height="3" fill-opacity="0.055"/><rect x="163" y="414" width="1" height="3" fill-opacity="0.055"/><rect x="161" y="417" width="1" height="1" fill-opacity="0.027"/><rect x="163" y="417" width="1" height="1" fill-opacity="0.027"/><rect x="252" y="413" width="1" height="1" fill-opacity="0.110"/><rect x="254" y="413" width="1" height="1" fill-opacity="0.110"/><rect x="252" y="414" width="1" height="3" fill-opacity="0.055"/><rect x="254" y="414" width="1" height="3" fill-opacity="0.055"/><rect x="252" y="417" width="1" height="1" fill-opacity="0.027"/><rect x="254" y="417" width="1" height="1" fill-opacity="0.027"/><rect x="343" y="413" width="1" height="1" fill-opacity="0.110"/><rect x="345" y="413" width="1" height="1" fill-opacity="0.110"/><rect x="343" y="414" width="1" height="3" fill-opacity="0.055"/><rect x="345" y="414" width="1" height="3" fill-opacity="0.055"/><rect x="343" y="417" width="1" height="1" fill-opacity="0.027"/><rect x="345" y="417" width="1" height="1" fill-opacity="0.027"/><rect x="434" y="413" width="1" height="1" fill-opacity="0.110"/><rect x="436" y="413" width="1" height="1" fill-opacity="0.110"/><rect x="434" y="414" width="1" height="3" fill-opacity="0.055"/><rect x="436" y="414" width="1" height="3" fill-opacity="0.055"/><rect x="434" y="417" width="1" height="1" fill-opacity="0.027"/><rect x="436" y="417" width="1" height="1" fill-opacity="0.027"/><rect x="526" y="413" width="1" height="1" fill-opacity="0.110"/><rect x="528" y="413" width="1" height="1" fill-opacity="0.110"/><rect x="526" y="414" width="1" height="3" fill-opacity="0.055"/><rect x="528" y="414" width="1" height="3" fill-opacity="0.055"/><rect x="526" y="417" width="1" height="1" fill-opacity="0.027"/><rect x="528" y="417" width="1" height="1" fill-opacity="0.027"/><rect x="617" y="413" width="1" height="1" fill-opacity="0.110"/><rect x="619" y="413" width="1" height="1" fill-opacity="0.110"/><rect x="617" y="414" width="1" height="3" fill-opacity="0.055"/><rect x="619" y="414" width="1" height="3" fill-opacity="0.055"/><rect x="617" y="417" width="1" height="1" fill-opacity="0.027"/><rect x="619" y="417" width="1" height="1" fill-opacity="0.027"/><rect x="708" y="413" width="1" height="1" fill-opacity="0.110"/><rect x="710" y="413" width="1" height="1" fill-opacity="0.110"/><rect x="708" y="414" width="1" height="3" fill-opacity="0.055"/><rect x="710" y="414" width="1" height="3" fill-opacity="0.055"/><rect x="708" y="417" width="1" height="1" fill-opacity="0.027"/><rect x="710" y="417" width="1" height="1" fill-opacity="0.027"/><rect x="799" y="413" width="1" height="1" fill-opacity="0.110"/><rect x="801" y="413" width="1" height="1" fill-opacity="0.110"/><rect x="799" y="414" width="1" height="3" fill-opacity="0.055"/><rect x="801" y="414" width="1" height="3" fill-opacity="0.055"/><rect x="799" y="417" width="1" height="1" fill-opacity="0.027"/><rect x="801" y="417" width="1" height="1" fill-opacity="0.027"/><rect x="891" y="413" width="1" height="1" fill-opacity="0.110"/><rect x="893" y="413" width="1" height="1" fill-opacity="0.110"/><rect x="891" y="414" width="1" height="3" fill-opacity="0.055"/><rect x="893" y="414" width="1" height="3" fill-opacity="0.055"/><rect x="891" y="417" width="1" height="1" fill-opacity="0.027"/><rect x="893" y="417" width="1" height="1" fill-opacity="0.027"/><rect x="124" y="438" width="778" height="3" fill-opacity="0.055"/><rect x="124" y="570" width="778" height="3" fill-opacity="0.055"/><rect x="124" y="438" width="3" height="135" fill-opacity="0.055"/><rect x="899" y="438" width="3" height="135" fill-opacity="0.055"/><rect x="121" y="444" width="3" height="1" fill-opacity="0.055"/><rect x="121" y="446" width="3" height="1" fill-opacity="0.055"/><rect x="124" y="444" width="1" height="1" fill-opacity="0.110"/><rect x="124" y="446" width="1" height="1" fill-opacity="0.110"/><rect x="120" y="444" width="1" height="1" fill-opacity="0.027"/><rect x="120" y="446" width="1" height="1" fill-opacity="0.027"/><rect x="121" y="484" width="3" height="1" fill-opacity="0.055"/><rect x="121" y="486" width="3" height="1" fill-opacity="0.055"/><rect x="124" y="484" width="1" height="1" fill-opacity="0.110"/><rect x="124" y="486" width="1" height="1" fill-opacity="0.110"/><rect x="120" y="484" width="1" height="1" fill-opacity="0.027"/><rect x="120" y="486" width="1" height="1" fill-opacity="0.027"/><rect x="121" y="524" width="3" height="1" fill-opacity="0.055"/><rect x="121" y="526" width="3" height="1" fill-opacity="0.055"/><rect x="124" y="524" width="1" height="1" fill-opacity="0.110"/><rect x="124" y="526" width="1" height="1" fill-opacity="0.110"/><rect x="120" y="524" width="1" height="1" fill-opacity="0.027"/><rect x="120" y="526" width="1" height="1" fill-opacity="0.027"/><rect x="121" y="564" width="3" height="1" fill-opacity="0.055"/><rect x="121" y="566" width="3" height="1" fill-opacity="0.055"/><rect x="124" y="564" width="1" height="1" fill-opacity="0.110"/><rect x="124" y="566" width="1" height="1" fill-opacity="0.110"/><rect x="120" y="564" width="1" height="1" fill-opacity="0.027"/><rect x="120" y="566" width="1" height="1" fill-opacity="0.027"/><rect x="161" y="572" width="1" height="1" fill-opacity="0.110"/><rect x="163" y="572" width="1" height="1" fill-opacity="0.110"/><rect x="161" y="573" width="1" height="3" fill-opacity="0.055"/><rect x="163" y="573" width="1" height="3" fill-opacity="0.055"/><rect x="161" y="576" width="1" height="1" fill-opacity="0.027"/><rect x="163" y="576" width="1" height="1" fill-opacity="0.027"/><rect x="252" y="572" width="1" height="1" fill-opacity="0.110"/><rect x="254" y="572" width="1" height="1" fill-opacity="0.110"/><rect x="252" y="573" width="1" height="3" fill-opacity="0.055"/><rect x="254" y="573" width="1" height="3" fill-opacity="0.055"/><rect x="252" y="576" width="1" height="1" fill-opacity="0.027"/><rect x="254" y="576" width="1" height="1" fill-opacity="0.027"/><rect x="343" y="572" width="1" height="1" fill-opacity="0.110"/><rect x="345" y="572" width="1" height="1" fill-opacity="0.110"/><rect x="343" y="573" width="1" height="3" fill-opacity="0.055"/><rect x="345" y="573" width="1" height="3" fill-opacity="0.055"/><rect x="343" y="576" width="1" height="1" fill-opacity="0.027"/><rect x="345" y="576" width="1" height="1" fill-opacity="0.027"/><rect x="434" y="572" width="1" height="1" fill-opacity="0.110"/><rect x="436" y="572" width="1" height="1" fill-opacity="0.110"/><rect x="434" y="573" width="1" height="3" fill-opacity="0.055"/><rect x="436" y="573" width="1" height="3" fill-opacity="0.055"/><rect x="434" y="576" width="1" height="1" fill-opacity="0.027"/><rect x="436" y="576" width="1" height="1" fill-opacity="0.027"/><rect x="526" y="572" width="1" height="1" fill-opacity="0.110"/><rect x="528" y="572" width="1" height="1" fill-opacity="0.110"/><rect x="526" y="573" width="1" height="3" fill-opacity="0.055"/><rect x="528" y="573" width="1" height="3" fill-opacity="0.055"/><rect x="526" y="576" width="1" height="1" fill-opacity="0.027"/><rect x="528" y="576" width="1" height="1" fill-opacity="0.027"/><rect x="617" y="572" width="1" height="1" fill-opacity="0.110"/><rect x="619" y="572" width="1" height="1" fill-opacity="0.110"/><rect x="617" y="573" width="1" height="3" fill-opacity="0.055"/><rect x="619" y="573" width="1" height="3" fill-opacity="0.055"/><rect x="617" y="576" width="1" height="1" fill-opacity="0.027"/><rect x="619" y="576" width="1" height="1" fill-opacity="0.027"/><rect x="708" y="572" width="1" height="1" fill-opacity="0.110"/><rect x="710" y="572" width="1" height="1" fill-opacity="0.110"/><rect x="708" y="573" width="1" height="3" fill-opacity="0.055"/><rect x="710" y="573" width="1" height="3" fill-opacity="0.055"/><rect x="708" y="576" width="1" height="1" fill-opacity="0.027"/><rect x="710" y="576" width="1" height="1" fill-opacity="0.027"/><rect x="799" y="572" width="1" height="1" fill-opacity="0.110"/><rect x="801" y="572" width="1" height="1" fill-opacity="0.110"/><rect x="799" y="573" width="1" height="3" fill-opacity="0.055"/><rect x="801" y="573" width="1" height="3" fill-opacity="0.055"/><rect x="799" y="576" width="1" height="1" fill-opacity="0.027"/><rect x="801" y="576" width="1" height="1" fill-opacity="0.027"/><rect x="891" y="572" width="1" height="1" fill-opacity="0.110"/><rect x="893" y="572" width="1" height="1" fill-opacity="0.110"/><rect x="891" y="573" width="1" height="3" fill-opacity="0.055"/><rect x="893" y="573" width="1" height="3" fill-opacity="0.055"/><rect x="891" y="576" width="1" height="1" fill-opacity="0.027"/><rect x="893" y="576" width="1" height="1" fill-opacity="0.027"/><rect x="124" y="597" width="778" height="3" fill-opacity="0.055"/><rect x="124" y="730" width="778" height="3" fill-opacity="0.055"/><rect x="124" y="597" width="3" height="136" fill-opacity="0.055"/><rect x="899" y="597" width="3" height="136" fill-opacity="0.055"/><rect x="121" y="603" width="3" height="1" fill-opacity="0.055"/><rect x="121" y="605" width="3" height="1" fill-opacity="0.055"/><rect x="124" y="603" width="1" height="1" fill-opacity="0.110"/><rect x="124" y="605" width="1" height="1" fill-opacity="0.110"/><rect x="120" y="603" width="1" height="1" fill-opacity="0.027"/><rect x="120" y="605" width="1" height="1" fill-opacity="0.027"/><rect x="121" y="663" width="3" height="1" fill-opacity="0.055"/><rect x="121" y="665" width="3" height="1" fill-opacity="0.055"/><rect x="124" y="663" width="1" height="1" fill-opacity="0.110"/><rect x="124" y="665" width="1" height="1" fill-opacity="0.110"/><rect x="120" y="663" width="1" height="1" fill-opacity="0.027"/><rect x="120" y="665" width="1" height="1" fill-opacity="0.027"/><rect x="121" y="724" width="3" height="1" fill-opacity="0.055"/><rect x="121" y="726" width="3" height="1" fill-opacity="0.055"/><rect x="124" y="724" width="1" height="1" fill-opacity="0.110"/><rect x="124" y="726" width="1" height="1" fill-opacity="0.110"/><rect x="120" y="724" width="1" height="1" fill-opacity="0.027"/><rect x="120" y="726" width="1" height="1" fill-opacity="0.027"/><rect x="161" y="732" width="1" height="1" fill-opacity="0.110"/><rect x="163" y="732" width="1" height="1" fill-opacity="0.110"/><rect x="161" y="733" width="1" height="3" fill-opacity="0.055"/><rect x="163" y="733" width="1" height="3" fill-opacity="0.055"/><rect x="161" y="736" width="1" height="1" fill-opacity="0.027"/><rect x="163" y="736" width="1" height="1" fill-opacity="0.027"/><rect x="252" y="732" width="1" height="1" fill-opacity="0.110"/><rect x="254" y="732" width="1" height="1" fill-opacity="0.110"/><rect x="252" y="733" width="1" height="3" fill-opacity="0.055"/><rect x="254" y="733" width="1" height="3" fill-opacity="0.055"/><rect x="252" y="736" width="1" height="1" fill-opacity="0.027"/><rect x="254" y="736" width="1" height="1" fill-opacity="0.027"/><rect x="343" y="732" width="1" height="1" fill-opacity="0.110"/><rect x="345" y="732" width="1" height="1" fill-opacity="0.110"/><rect x="343" y="733" width="1" height="3" fill-opacity="0.055"/><rect x="345" y="733" width="1" height="3" fill-opacity="0.055"/><rect x="343" y="736" width="1" height="1" fill-opacity="0.027"/><rect x="345" y="736" width="1" height="1" fill-opacity="0.027"/><rect x="434" y="732" width="1" height="1" fill-opacity="0.110"/><rect x="436" y="732" width="1" height="1" fill-opacity="0.110"/><rect x="434" y="733" width="1" height="3" fill-opacity="0.055"/><rect x="436" y="733" width="1" height="3" fill-opacity="0.055"/><rect x="434" y="736" width="1" height="1" fill-opacity="0.027"/><rect x="436" y="736" width="1" height="1" fill-opacity="0.027"/><rect x="526" y="732" width="1" height="1" fill-opacity="0.110"/><rect x="528" y="732" width="1" height="1" fill-opacity="0.110"/><rect x="526" y="733" width="1" height="3" fill-opacity="0.055"/><rect x="528" y="733" width="1" height="3" fill-opacity="0.055"/><rect x="526" y="736" width="1" height="1" fill-opacity="0.027"/><rect x="528" y="736" width="1" height="1" fill-opacity="0.027"/><rect x="617" y="732" width="1" height="1" fill-opacity="0.110"/><rect x="619" y="732" width="1" height="1" fill-opacity="0.110"/><rect x="617" y="733" width="1" height="3" fill-opacity="0.055"/><rect x="619" y="733" width="1" height="3" fill-opacity="0.055"/><rect x="617" y="736" width="1" height="1" fill-opacity="0.027"/><rect x="619" y="736" width="1" height="1" fill-opacity="0.027"/><rect x="708" y="732" width="1" height="1" fill-opacity="0.110"/><rect x="710" y="732" width="1" height="1" fill-opacity="0.110"/><rect x="708" y="733" width="1" height="3" fill-opacity="0.055"/><rect x="710" y="733" width="1" height="3" fill-opacity="0.055"/><rect x="708" y="736" width="1" height="1" fill-opacity="0.027"/><rect x="710" y="736" width="1" height="1" fill-opacity="0.027"/><rect x="799" y="732" width="1" height="1" fill-opacity="0.110"/><rect x="801" y="732" width="1" height="1" fill-opacity="0.110"/><rect x="799" y="733" width="1" height="3" fill-opacity="0.055"/><rect x="801" y="733" width="1" height="3" fill-opacity="0.055"/><rect x="799" y="736" width="1" height="1" fill-opacity="0.027"/><rect x="801" y="736" width="1" height="1" fill-opacity="0.027"/><rect x="891" y="732" width="1" height="1" fill-opacity="0.110"/><rect x="893" y="732" width="1" height="1" fill-opacity="0.110"/><rect x="891" y="733" width="1" height="3" fill-opacity="0.055"/><rect x="893" y="733" width="1" height="3" fill-opacity="0.055"/><rect x="891" y="736" width="1" height="1" fill-opacity="0.027"/><rect x="893" y="736" width="1" height="1" fill-opacity="0.027"/><rect x="124" y="756" width="778" height="3" fill-opacity="0.055"/><rect x="124" y="889" width="778" height="3" fill-opacity="0.055"/><rect x="124" y="756" width="3" height="136" fill-opacity="0.055"/><rect x="899" y="756" width="3" height="136" fill-opacity="0.055"/><rect x="121" y="762" width="3" height="1" fill-opacity="0.055"/><rect x="121" y="764" width="3" height="1" fill-opacity="0.055"/><rect x="124" y="762" width="1" height="1" fill-opacity="0.110"/><rect x="124" y="764" width="1" height="1" fill-opacity="0.110"/><rect x="120" y="762" width="1" height="1" fill-opacity="0.027"/><rect x="120" y="764" width="1" height="1" fill-opacity="0.027"/><rect x="121" y="823" width="3" height="1" fill-opacity="0.055"/><rect x="121" y="825" width="3" height="1" fill-opacity="0.055"/><rect x="124" y="823" width="1" height="1" fill-opacity="0.110"/><rect x="124" y="825" width="1" height="1" fill-opacity="0.110"/><rect x="120" y="823" width="1" height="1" fill-opacity="0.027"/><rect x="120" y="825" width="1" height="1" fill-opacity="0.027"/><rect x="121" y="883" width="3" height="1" fill-opacity="0.055"/><rect x="121" y="885" width="3" height="1" fill-opacity="0.055"/><rect x="124" y="883" width="1" height="1" fill-opacity="0.110"/><rect x="124" y="885" width="1" height="1" fill-opacity="0.110"/><rect x="120" y="883" width="1" height="1" fill-opacity="0.027"/><rect x="120" y="885" width="1" height="1" fill-opacity="0.027"/><rect x="161" y="891" width="1" height="1" fill-opacity="0.110"/><rect x="163" y="891" width="1" height="1" fill-opacity="0.110"/><rect x="161" y="892" width="1" height="3" fill-opacity="0.055"/><rect x="163" y="892" width="1" height="3" fill-opacity="0.055"/><rect x="161" y="895" width="1" height="1" fill-opacity="0.027"/><rect x="163" y="895" width="1" height="1" fill-opacity="0.027"/><rect x="252" y="891" width="1" height="1" fill-opacity="0.110"/><rect x="254" y="891" width="1" height="1" fill-opacity="0.110"/><rect x="252" y="892" width="1" height="3" fill-opacity="0.055"/><rect x="254" y="892" width="1" height="3" fill-opacity="0.055"/><rect x="252" y="895" width="1" height="1" fill-opacity="0.027"/><rect x="254" y="895" width="1" height="1" fill-opacity="0.027"/><rect x="343" y="891" width="1" height="1" fill-opacity="0.110"/><rect x="345" y="891" width="1" height="1" fill-opacity="0.110"/><rect x="343" y="892" width="1" height="3" fill-opacity="0.055"/><rect x="345" y="892" width="1" height="3" fill-opacity="0.055"/><rect x="343" y="895" width="1" height="1" fill-opacity="0.027"/><rect x="345" y="895" width="1" height="1" fill-opacity="0.027"/><rect x="434" y="891" width="1" height="1" fill-opacity="0.110"/><rect x="436" y="891" width="1" height="1" fill-opacity="0.110"/><rect x="434" y="892" width="1" height="3" fill-opacity="0.055"/><rect x="436" y="892" width="1" height="3" fill-opacity="0.055"/><rect x="434" y="895" width="1" height="1" fill-opacity="0.027"/><rect x="436" y="895" width="1" height="1" fill-opacity="0.027"/><rect x="526" y="891" width="1" height="1" fill-opacity="0.110"/><rect x="528" y="891" width="1" height="1" fill-opacity="0.110"/><rect x="526" y="892" width="1" height="3" fill-opacity="0.055"/><rect x="528" y="892" width="1" height="3" fill-opacity="0.055"/><rect x="526" y="895" width="1" height="1" fill-opacity="0.027"/><rect x="528" y="895" width="1" height="1" fill-opacity="0.027"/><rect x="617" y="891" width="1" height="1" fill-opacity="0.110"/><rect x="619" y="891" width="1" height="1" fill-opacity="0.110"/><rect x="617" y="892" width="1" height="3" fill-opacity="0.055"/><rect x="619" y="892" width="1" height="3" fill-opacity="0.055"/><rect x="617" y="895" width="1" height="1" fill-opacity="0.027"/><rect x="619" y="895" width="1" height="1" fill-opacity="0.027"/><rect x="708" y="891" width="1" height="1" fill-opacity="0.110"/><rect x="710" y="891" width="1" height="1" fill-opacity="0.110"/><rect x="708" y="892" width="1" height="3" fill-opacity="0.055"/><rect x="710" y="892" width="1" height="3" fill-opacity="0.055"/><rect x="708" y="895" width="1" height="1" fill-opacity="0.027"/><rect x="710" y="895" width="1" height="1" fill-opacity="0.027"/><rect x="799" y="891" width="1" height="1" fill-opacity="0.110"/><rect x="801" y="891" width="1" height="1" fill-opacity="0.110"/><rect x="799" y="892" width="1" height="3" fill-opacity="0.055"/><rect x="801" y="892" width="1" height="3" fill-opacity="0.055"/><rect x="799" y="895" width="1" height="1" fill-opacity="0.027"/><rect x="801" y="895" width="1" height="1" fill-opacity="0.027"/><rect x="891" y="891" width="1" height="1" fill-opacity="0.110"/><rect x="893" y="891" width="1" height="1" fill-opacity="0.110"/><rect x="891" y="892" width="1" height="3" fill-opacity="0.055"/><rect x="893" y="892" width="1" height="3" fill-opacity="0.055"/><rect x="891" y="895" width="1" height="1" fill-opacity="0.027"/><rect x="893" y="895" width="1" height="1" fill-opacity="0.027"/><rect x="121" y="162" width="4" height="1"/><rect x="120" y="162" width="1" height="1" fill-opacity="0.502"/><rect x="121" y="206" width="4" height="1"/><rect x="120" y="206" width="1" height="1" fill-opacity="0.502"/><rect x="121" y="249" width="4" height="1"/><rect x="120" y="249" width="1" height="1" fill-opacity="0.502"/><rect x="162" y="254" width="1" height="4"/><rect x="162" y="258" width="1" height="1" fill-opacity="0.502"/><rect x="253" y="254" width="1" height="4"/><rect x="253" y="258" width="1" height="1" fill-opacity="0.502"/><rect x="344" y="254" width="1" height="4"/><rect x="344" y="258" width="1" height="1" fill-opacity="0.502"/><rect x="435" y="254" width="1" height="4"/><rect x="435" y="258" width="1" height="1" fill-opacity="0.502"/><rect x="527" y="254" width="1" height="4"/><rect x="527" y="258" width="1" height="1" fill-opacity="0.502"/><rect x="618" y="254" width="1" height="4"/><rect x="618" y="258" width="1" height="1" fill-opacity="0.502"/><rect x="709" y="254" width="1" height="4"/><rect x="709" y="258" width="1" height="1" fill-opacity="0.502"/><rect x="800" y="254" width="1" height="4"/><rect x="800" y="258" width="1" height="1" fill-opacity="0.502"/><rect x="892" y="254" width="1" height="4"/><rect x="892" y="258" width="1" height="1" fill-opacity="0.502"/><rect x="207" y="254" width="1" height="1" fill-opacity="0.851"/><rect x="207" y="255" width="1" height="1" fill-opacity="0.839"/><rect x="207" y="256" width="1" height="1" fill-opacity="0.420"/><rect x="298" y="254" width="1" height="1" fill-opacity="0.851"/><rect x="298" y="255" width="1" height="1" fill-opacity="0.839"/><rect x="298" y="256" width="1" height="1" fill-opacity="0.420"/><rect x="390" y="254" width="1" height="1" fill-opacity="0.851"/><rect x="390" y="255" width="1" height="1" fill-opacity="0.839"/><rect x="390" y="256" width="1" height="1" fill-opacity="0.420"/><rect x="481" y="254" width="1" height="1" fill-opacity="0.851"/><rect x="481" y="255" width="1" height="1" fill-opacity="0.839"/><rect x="481" y="256" width="1" height="1" fill-opacity="0.420"/><rect x="572" y="254" width="1" height="1" fill-opacity="0.851"/><rect x="572" y="255" width="1" height="1" fill-opacity="0.839"/><rect x="572" y="256" width="1" height="1" fill-opacity="0.420"/><rect x="663" y="254" width="1" height="1" fill-opacity="0.851"/><rect x="663" y="255" width="1" height="1" fill-opacity="0.839"/><rect x="663" y="256" width="1" height="1" fill-opacity="0.420"/><rect x="755" y="254" width="1" height="1" fill-opacity="0.851"/><rect x="755" y="255" width="1" height="1" fill-opacity="0.839"/><rect x="755" y="256" width="1" height="1" fill-opacity="0.420"/><rect x="846" y="254" width="1" height="1" fill-opacity="0.851"/><rect x="846" y="255" width="1" height="1" fill-opacity="0.839"/><rect x="846" y="256" width="1" height="1" fill-opacity="0.420"/><rect x="125" y="120" width="776" height="1"/><rect x="125" y="253" width="776" height="1"/><rect x="125" y="120" width="1" height="134"/><rect x="900" y="120" width="1" height="134"/><rect x="121" y="285" width="4" height="1"/><rect x="120" y="285" width="1" height="1" fill-opacity="0.502"/><rect x="121" y="346" width="4" height="1"/><rect x="120" y="346" width="1" height="1" fill-opacity="0.502"/><rect x="121" y="406" width="4" height="1"/><rect x="120" y="406" width="1" height="1" fill-opacity="0.502"/><rect x="162" y="413" width="1" height="4"/><rect x="162" y="417" width="1" height="1" fill-opacity="0.502"/><rect x="253" y="413" width="1" height="4"/><rect x="253" y="417" width="1" height="1" fill-opacity="0.502"/><rect x="344" y="413" width="1" height="4"/><rect x="344" y="417" width="1" height="1" fill-opacity="0.502"/><rect x="435" y="413" width="1" height="4"/><rect x="435" y="417" width="1" height="1" fill-opacity="0.502"/><rect x="527" y="413" width="1" height="4"/><rect x="527" y="417" width="1" height="1" fill-opacity="0.502"/><rect x="618" y="413" width="1" height="4"/><rect x="618" y="417" width="1" height="1" fill-opacity="0.502"/><rect x="709" y="413" width="1" height="4"/><rect x="709" y="417" width="1" height="1" fill-opacity="0.502"/><rect x="800" y="413" width="1" height="4"/><rect x="800" y="417" width="1" height="1" fill-opacity="0.502"/><rect x="892" y="413" width="1" height="4"/><rect x="892" y="417" width="1" height="1" fill-opacity="0.502"/><rect x="207" y="413" width="1" height="1" fill-opacity="0.851"/><rect x="207" y="414" width="1" height="1" fill-opacity="0.839"/><rect x="207" y="415" width="1" height="1" fill-opacity="0.420"/><rect x="298" y="413" width="1" height="1" fill-opacity="0.851"/><rect x="298" y="414" width="1" height="1" fill-opacity="0.839"/><rect x="298" y="415" width="1" height="1" fill-opacity="0.420"/><rect x="390" y="413" width="1" height="1" fill-opacity="0.851"/><rect x="390" y="414" width="1" height="1" fill-opacity="0.839"/><rect x="390" y="415" width="1" height="1" fill-opacity="0.420"/><rect x="481" y="413" width="1" height="1" fill-opacity="0.851"/><rect x="481" y="414" width="1" height="1" fill-opacity="0.839"/><rect x="481" y="415" width="1" height="1" fill-opacity="0.420"/><rect x="572" y="413" width="1" height="1" fill-opacity="0.851"/><rect x="572" y="414" width="1" height="1" fill-opacity="0.839"/><rect x="572" y="415" width="1" height="1" fill-opacity="0.420"/><rect x="663" y="413" width="1" height="1" fill-opacity="0.851"/><rect x="663" y="414" width="1" height="1" fill-opacity="0.839"/><rect x="663" y="415" width="1" height="1" fill-opacity="0.420"/><rect x="755" y="413" width="1" height="1" fill-opacity="0.851"/><rect x="755" y="414" width="1" height="1" fill-opacity="0.839"/><rect x="755" y="415" width="1" height="1" fill-opacity="0.420"/><rect x="846" y="413" width="1" height="1" fill-opacity="0.851"/><rect x="846" y="414" width="1" height="1" fill-opacity="0.839"/><rect x="846" y="415" width="1" height="1" fill-opacity="0.420"/><rect x="125" y="279" width="776" height="1"/><rect x="125" y="412" width="776" height="1"/><rect x="125" y="279" width="1" height="134"/><rect x="900" y="279" width="1" height="134"/><rect x="121" y="445" width="4" height="1"/><rect x="120" y="445" width="1" height="1" fill-opacity="0.502"/><rect x="121" y="485" width="4" height="1"/><rect x="120" y="485" width="1" height="1" fill-opacity="0.502"/><rect x="121" y="525" width="4" height="1"/><rect x="120" y="525" width="1" height="1" fill-opacity="0.502"/><rect x="121" y="565" width="4" height="1"/><rect x="120" y="565" width="1" height="1" fill-opacity="0.502"/><rect x="162" y="572" width="1" height="4"/><rect x="162" y="576" width="1" height="1" fill-opacity="0.502"/><rect x="253" y="572" width="1" height="4"/><rect x="253" y="576" width="1" height="1" fill-opacity="0.502"/><rect x="344" y="572" width="1" height="4"/><rect x="344" y="576" width="1" height="1" fill-opacity="0.502"/><rect x="435" y="572" width="1" height="4"/><rect x="435" y="576" width="1" height="1" fill-opacity="0.502"/><rect x="527" y="572" width="1" height="4"/><rect x="527" y="576" width="1" height="1" fill-opacity="0.502"/><rect x="618" y="572" width="1" height="4"/><rect x="618" y="576" width="1" height="1" fill-opacity="0.502"/><rect x="709" y="572" width="1" height="4"/><rect x="709" y="576" width="1" height="1" fill-opacity="0.502"/><rect x="800" y="572" width="1" height="4"/><rect x="800" y="576" width="1" height="1" fill-opacity="0.502"/><rect x="892" y="572" width="1" height="4"/><rect x="892" y="576" width="1" height="1" fill-opacity="0.502"/><rect x="207" y="572" width="1" height="1" fill-opacity="0.851"/><rect x="207" y="573" width="1" height="1" fill-opacity="0.839"/><rect x="207" y="574" width="1" height="1" fill-opacity="0.420"/><rect x="298" y="572" width="1" height="1" fill-opacity="0.851"/><rect x="298" y="573" width="1" height="1" fill-opacity="0.839"/><rect x="298" y="574" width="1" height="1" fill-opacity="0.420"/><rect x="390" y="572" width="1" height="1" fill-opacity="0.851"/><rect x="390" y="573" width="1" height="1" fill-opacity="0.839"/><rect x="390" y="574" width="1" height="1" fill-opacity="0.420"/><rect x="481" y="572" width="1" height="1" fill-opacity="0.851"/><rect x="481" y="573" width="1" height="1" fill-opacity="0.839"/><rect x="481" y="574" width="1" height="1" fill-opacity="0.420"/><rect x="572" y="572" width="1" height="1" fill-opacity="0.851"/><rect x="572" y="573" width="1" height="1" fill-opacity="0.839"/><rect x="572" y="574" width="1" height="1" fill-opacity="0.420"/><rect x="663" y="572" width="1" height="1" fill-opacity="0.851"/><rect x="663" y="573" width="1" height="1" fill-opacity="0.839"/><rect x="663" y="574" width="1" height="1" fill-opacity="0.420"/><rect x="755" y="572" width="1" height="1" fill-opacity="0.851"/><rect x="755" y="573" width="1" height="1" fill-opacity="0.839"/><rect x="755" y="574" width="1" height="1" fill-opacity="0.420"/><rect x="846" y="572" width="1" height="1" fill-opacity="0.851"/><rect x="846" y="573" width="1" height="1" fill-opacity="0.839"/><rect x="846" y="574" width="1" height="1" fill-opacity="0.420"/><rect x="125" y="439" width="776" height="1"/><rect x="125" y="571" width="776" height="1"/><rect x="125" y="439" width="1" height="133"/><rect x="900" y="439" width="1" height="133"/><rect x="121" y="604" width="4" height="1"/><rect x="120" y="604" width="1" height="1" fill-opacity="0.502"/><rect x="121" y="664" width="4" height="1"/><rect x="120" y="664" width="1" height="1" fill-opacity="0.502"/><rect x="121" y="725" width="4" height="1"/><rect x="120" y="725" width="1" height="1" fill-opacity="0.502"/><rect x="162" y="732" width="1" height="4"/><rect x="162" y="736" width="1" height="1" fill-opacity="0.502"/><rect x="253" y="732" width="1" height="4"/><rect x="253" y="736" width="1" height="1" fill-opacity="0.502"/><rect x="344" y="732" width="1" height="4"/><rect x="344" y="736" width="1" height="1" fill-opacity="0.502"/><rect x="435" y="732" width="1" height="4"/><rect x="435" y="736" width="1" height="1" fill-opacity="0.502"/><rect x="527" y="732" width="1" height="4"/><rect x="527" y="736" width="1" height="1" fill-opacity="0.502"/><rect x="618" y="732" width="1" height="4"/><rect x="618" y="736" width="1" height="1" fill-opacity="0.502"/><rect x="709" y="732" width="1" height="4"/><rect x="709" y="736" width="1" height="1" fill-opacity="0.502"/><rect x="800" y="732" width="1" height="4"/><rect x="800" y="736" width="1" height="1" fill-opacity="0.502"/><rect x="892" y="732" width="1" height="4"/><rect x="892" y="736" width="1" height="1" fill-opacity="0.502"/><rect x="207" y="732" width="1" height="1" fill-opacity="0.851"/><rect x="207" y="733" width="1" height="1" fill-opacity="0.839"/><rect x="207" y="734" width="1" height="1" fill-opacity="0.420"/><rect x="298" y="732" width="1" height="1" fill-opacity="0.851"/><rect x="298" y="733" width="1" height="1" fill-opacity="0.839"/><rect x="298" y="734" width="1" height="1" fill-opacity="0.420"/><rect x="390" y="732" width="1" height="1" fill-opacity="0.851"/><rect x="390" y="733" width="1" height="1" fill-opacity="0.839"/><rect x="390" y="734" width="1" height="1" fill-opacity="0.420"/><rect x="481" y="732" width="1" height="1" fill-opacity="0.851"/><rect x="481" y="733" width="1" height="1" fill-opacity="0.839"/><rect x="481" y="734" width="1" height="1" fill-opacity="0.420"/><rect x="572" y="732" width="1" height="1" fill-opacity="0.851"/><rect x="572" y="733" width="1" height="1" fill-opacity="0.839"/><rect x="572" y="734" width="1" height="1" fill-opacity="0.420"/><rect x="663" y="732" width="1" height="1" fill-opacity="0.851"/><rect x="663" y="733" width="1" height="1" fill-opacity="0.839"/><rect x="663" y="734" width="1" height="1" fill-opacity="0.420"/><rect x="755" y="732" width="1" height="1" fill-opacity="0.851"/><rect x="755" y="733" width="1" height="1" fill-opacity="0.839"/><rect x="755" y="734" width="1" height="1" fill-opacity="0.420"/><rect x="846" y="732" width="1" height="1" fill-opacity="0.851"/><rect x="846" y="733" width="1" height="1" fill-opacity="0.839"/><rect x="846" y="734" width="1" height="1" fill-opacity="0.420"/><rect x="125" y="598" width="776" height="1"/><rect x="125" y="731" width="776" height="1"/><rect x="125" y="598" width="1" height="134"/><rect x="900" y="598" width="1" height="134"/><rect x="121" y="763" width="4" height="1"/><rect x="120" y="763" width="1" height="1" fill-opacity="0.502"/><rect x="121" y="824" width="4" height="1"/><rect x="120" y="824" width="1" height="1" fill-opacity="0.502"/><rect x="121" y="884" width="4" height="1"/><rect x="120" y="884" width="1" height="1" fill-opacity="0.502"/><rect x="162" y="891" width="1" height="4"/><rect x="162" y="895" width="1" height="1" fill-opacity="0.502"/><rect x="253" y="891" width="1" height="4"/><rect x="253" y="895" width="1" height="1" fill-opacity="0.502"/><rect x="344" y="891" width="1" height="4"/><rect x="344" y="895" width="1" height="1" fill-opacity="0.502"/><rect x="435" y="891" width="1" height="4"/><rect x="435" y="895" width="1" height="1" fill-opacity="0.502"/><rect x="527" y="891" width="1" height="4"/><rect x="527" y="895" width="1" height="1" fill-opacity="0.502"/><rect x="618" y="891" width="1" height="4"/><rect x="618" y="895" width="1" height="1" fill-opacity="0.502"/><rect x="709" y="891" width="1" height="4"/><rect x="709" y="895" width="1" height="1" fill-opacity="0.502"/><rect x="800" y="891" width="1" height="4"/><rect x="800" y="895" width="1" height="1" fill-opacity="0.502"/><rect x="892" y="891" width="1" height="4"/><rect x="892" y="895" width="1" height="1" fill-opacity="0.502"/><rect x="207" y="891" width="1" height="1" fill-opacity="0.851"/><rect x="207" y="892" width="1" height="1" fill-opacity="0.839"/><rect x="207" y="893" width="1" height="1" fill-opacity="0.420"/><rect x="298" y="891" width="1" height="1" fill-opacity="0.851"/><rect x="298" y="892" width="1" height="1" fill-opacity="0.839"/><rect x="298" y="893" width="1" height="1" fill-opacity="0.420"/><rect x="390" y="891" width="1" height="1" fill-opacity="0.851"/><rect x="390" y="892" width="1" height="1" fill-opacity="0.839"/><rect x="390" y="893" width="1" height="1" fill-opacity="0.420"/><rect x="481" y="891" width="1" height="1" fill-opacity="0.851"/><rect x="481" y="892" width="1" height="1" fill-opacity="0.839"/><rect x="481" y="893" width="1" height="1" fill-opacity="0.420"/><rect x="572" y="891" width="1" height="1" fill-opacity="0.851"/><rect x="572" y="892" width="1" height="1" fill-opacity="0.839"/><rect x="572" y="893" width="1" height="1" fill-opacity="0.420"/><rect x="663" y="891" width="1" height="1" fill-opacity="0.851"/><rect x="663" y="892" width="1" height="1" fill-opacity="0.839"/><rect x="663" y="893" width="1" height="1" fill-opacity="0.420"/><rect x="755" y="891" width="1" height="1" fill-opacity="0.851"/><rect x="755" y="892" width="1" height="1" fill-opacity="0.839"/><rect x="755" y="893" width="1" height="1" fill-opacity="0.420"/><rect x="846" y="891" width="1" height="1" fill-opacity="0.851"/><rect x="846" y="892" width="1" height="1" fill-opacity="0.839"/><rect x="846" y="893" width="1" height="1" fill-opacity="0.420"/><rect x="125" y="757" width="776" height="1"/><rect x="125" y="890" width="776" height="1"/><rect x="125" y="757" width="1" height="134"/><rect x="900" y="757" width="1" height="134"/></g>
<g font-family="Liberation Sans, sans-serif" fill="#000" style="opacity:0.999">
<text x="294.72" y="111.29" font-size="15.745" textLength="434.61" lengthAdjust="spacingAndGlyphs">TNgt20, lev=0, 20150101T0000 to 20991201T0000</text>
<text x="480.24" y="929.85" font-size="14.595" textLength="63.80" lengthAdjust="spacingAndGlyphs">validtime</text>
<text x="143.96" y="272.86" font-size="14.225" textLength="35.62" lengthAdjust="spacingAndGlyphs">2019</text>
<text x="235.24" y="272.86" font-size="14.225" textLength="35.62" lengthAdjust="spacingAndGlyphs">2029</text>
<text x="326.49" y="272.86" font-size="14.225" textLength="35.62" lengthAdjust="spacingAndGlyphs">2039</text>
<text x="417.77" y="272.86" font-size="14.225" textLength="35.62" lengthAdjust="spacingAndGlyphs">2049</text>
<text x="509.03" y="272.86" font-size="14.225" textLength="35.62" lengthAdjust="spacingAndGlyphs">2059</text>
<text x="600.31" y="272.86" font-size="14.225" textLength="35.62" lengthAdjust="spacingAndGlyphs">2069</text>
<text x="691.57" y="272.86" font-size="14.225" textLength="35.62" lengthAdjust="spacingAndGlyphs">2079</text>
<text x="782.85" y="272.86" font-size="14.225" textLength="35.62" lengthAdjust="spacingAndGlyphs">2089</text>
<text x="874.10" y="272.86" font-size="14.225" textLength="35.62" lengthAdjust="spacingAndGlyphs">2099</text>
<text x="143.96" y="432.86" font-size="14.225" textLength="35.62" lengthAdjust="spacingAndGlyphs">2019</text>
<text x="235.24" y="432.86" font-size="14.225" textLength="35.62" lengthAdjust="spacingAndGlyphs">2029</text>
<text x="326.49" y="432.86" font-size="14.225" textLength="35.62" lengthAdjust="spacingAndGlyphs">2039</text>
<text x="417.77" y="432.86" font-size="14.225" textLength="35.62" lengthAdjust="spacingAndGlyphs">2049</text>
<text x="509.03" y="432.86" font-size="14.225" textLength="35.62" lengthAdjust="spacingAndGlyphs">2059</text>
<text x="600.31" y="432.86" font-size="14.225" textLength="35.62" lengthAdjust="spacingAndGlyphs">2069</text>
<text x="691.57" y="432.86" font-size="14.225" textLength="35.62" lengthAdjust="spacingAndGlyphs">2079</text>
<text x="782.85" y="432.86" font-size="14.225" textLength="35.62" lengthAdjust="spacingAndGlyphs">2089</text>
<text x="874.10" y="432.86" font-size="14.225" textLength="35.62" lengthAdjust="spacingAndGlyphs">2099</text>
<text x="143.96" y="591.86" font-size="14.225" textLength="35.62" lengthAdjust="spacingAndGlyphs">2019</text>
<text x="235.24" y="591.86" font-size="14.225" textLength="35.62" lengthAdjust="spacingAndGlyphs">2029</text>
<text x="326.49" y="591.86" font-size="14.225" textLength="35.62" lengthAdjust="spacingAndGlyphs">2039</text>
<text x="417.77" y="591.86" font-size="14.225" textLength="35.62" lengthAdjust="spacingAndGlyphs">2049</text>
<text x="509.03" y="591.86" font-size="14.225" textLength="35.62" lengthAdjust="spacingAndGlyphs">2059</text>
<text x="600.31" y="591.86" font-size="14.225" textLength="35.62" lengthAdjust="spacingAndGlyphs">2069</text>
<text x="691.57" y="591.86" font-size="14.225" textLength="35.62" lengthAdjust="spacingAndGlyphs">2079</text>
<text x="782.85" y="591.86" font-size="14.225" textLength="35.62" lengthAdjust="spacingAndGlyphs">2089</text>
<text x="874.10" y="591.86" font-size="14.225" textLength="35.62" lengthAdjust="spacingAndGlyphs">2099</text>
<text x="143.96" y="750.86" font-size="14.225" textLength="35.62" lengthAdjust="spacingAndGlyphs">2019</text>
<text x="235.24" y="750.86" font-size="14.225" textLength="35.62" lengthAdjust="spacingAndGlyphs">2029</text>
<text x="326.49" y="750.86" font-size="14.225" textLength="35.62" lengthAdjust="spacingAndGlyphs">2039</text>
<text x="417.77" y="750.86" font-size="14.225" textLength="35.62" lengthAdjust="spacingAndGlyphs">2049</text>
<text x="509.03" y="750.86" font-size="14.225" textLength="35.62" lengthAdjust="spacingAndGlyphs">2059</text>
<text x="600.31" y="750.86" font-size="14.225" textLength="35.62" lengthAdjust="spacingAndGlyphs">2069</text>
<text x="691.57" y="750.86" font-size="14.225" textLength="35.62" lengthAdjust="spacingAndGlyphs">2079</text>
<text x="782.85" y="750.86" font-size="14.225" textLength="35.62" lengthAdjust="spacingAndGlyphs">2089</text>
<text x="874.10" y="750.86" font-size="14.225" textLength="35.62" lengthAdjust="spacingAndGlyphs">2099</text>
<text x="143.96" y="910.96" font-size="14.225" textLength="35.62" lengthAdjust="spacingAndGlyphs">2019</text>
<text x="235.24" y="910.96" font-size="14.225" textLength="35.62" lengthAdjust="spacingAndGlyphs">2029</text>
<text x="326.49" y="910.96" font-size="14.225" textLength="35.62" lengthAdjust="spacingAndGlyphs">2039</text>
<text x="417.77" y="910.96" font-size="14.225" textLength="35.62" lengthAdjust="spacingAndGlyphs">2049</text>
<text x="509.03" y="910.96" font-size="14.225" textLength="35.62" lengthAdjust="spacingAndGlyphs">2059</text>
<text x="600.31" y="910.96" font-size="14.225" textLength="35.62" lengthAdjust="spacingAndGlyphs">2069</text>
<text x="691.57" y="910.96" font-size="14.225" textLength="35.62" lengthAdjust="spacingAndGlyphs">2079</text>
<text x="782.85" y="910.96" font-size="14.225" textLength="35.62" lengthAdjust="spacingAndGlyphs">2089</text>
<text x="874.10" y="910.96" font-size="14.225" textLength="35.62" lengthAdjust="spacingAndGlyphs">2099</text>
<text x="98.10" y="167.86" font-size="14.225" textLength="16.63" lengthAdjust="spacingAndGlyphs">10</text>
<text x="107.02" y="210.76" font-size="13.803" textLength="8.71" lengthAdjust="spacingAndGlyphs">9</text>
<text x="106.27" y="254.66" font-size="13.521" textLength="8.76" lengthAdjust="spacingAndGlyphs">8</text>
<text x="98.21" y="450.05" font-size="14.507" textLength="16.36" lengthAdjust="spacingAndGlyphs">31</text>
<text x="98.21" y="489.86" font-size="14.085" textLength="16.42" lengthAdjust="spacingAndGlyphs">30</text>
<text x="98.00" y="531.06" font-size="14.366" textLength="17.84" lengthAdjust="spacingAndGlyphs">29</text>
<text x="98.02" y="570.96" font-size="13.944" textLength="17.34" lengthAdjust="spacingAndGlyphs">28</text>
<text x="84.98" y="290.86" font-size="14.225" textLength="29.98" lengthAdjust="spacingAndGlyphs">0.05</text>
<text x="84.99" y="351.16" font-size="14.225" textLength="29.82" lengthAdjust="spacingAndGlyphs">0.00</text>
<text x="73.49" y="411.92" font-size="14.169" textLength="40.75" lengthAdjust="spacingAndGlyphs">&#8722;0.05</text>
<text x="84.98" y="609.48" font-size="14.225" textLength="29.98" lengthAdjust="spacingAndGlyphs">0.05</text>
<text x="84.99" y="669.78" font-size="14.225" textLength="29.82" lengthAdjust="spacingAndGlyphs">0.00</text>
<text x="73.49" y="730.54" font-size="14.169" textLength="40.75" lengthAdjust="spacingAndGlyphs">&#8722;0.05</text>
<text x="84.98" y="768.79" font-size="14.225" textLength="29.98" lengthAdjust="spacingAndGlyphs">0.05</text>
<text x="84.99" y="829.09" font-size="14.225" textLength="29.82" lengthAdjust="spacingAndGlyphs">0.00</text>
<text x="73.49" y="889.85" font-size="14.169" textLength="40.75" lengthAdjust="spacingAndGlyphs">&#8722;0.05</text>
<text x="0" y="0" transform="translate(88.10,221.06) rotate(-90)" font-size="15.203" textLength="67.43" lengthAdjust="spacingAndGlyphs">fieldmean</text>
<text x="0" y="0" transform="translate(62.85,375.06) rotate(-90)" font-size="15.000" textLength="55.22" lengthAdjust="spacingAndGlyphs">fieldmin</text>
<text x="0" y="0" transform="translate(87.85,535.96) rotate(-90)" font-size="15.135" textLength="59.18" lengthAdjust="spacingAndGlyphs">fieldmax</text>
<text x="0" y="0" transform="translate(63.85,709.09) rotate(-90)" font-size="14.865" textLength="84.63" lengthAdjust="spacingAndGlyphs">nummasked</text>
<text x="0" y="0" transform="translate(63.95,854.40) rotate(-90)" font-size="14.909" textLength="56.91" lengthAdjust="spacingAndGlyphs">numnan</text>
</g>
</svg></body></html>
